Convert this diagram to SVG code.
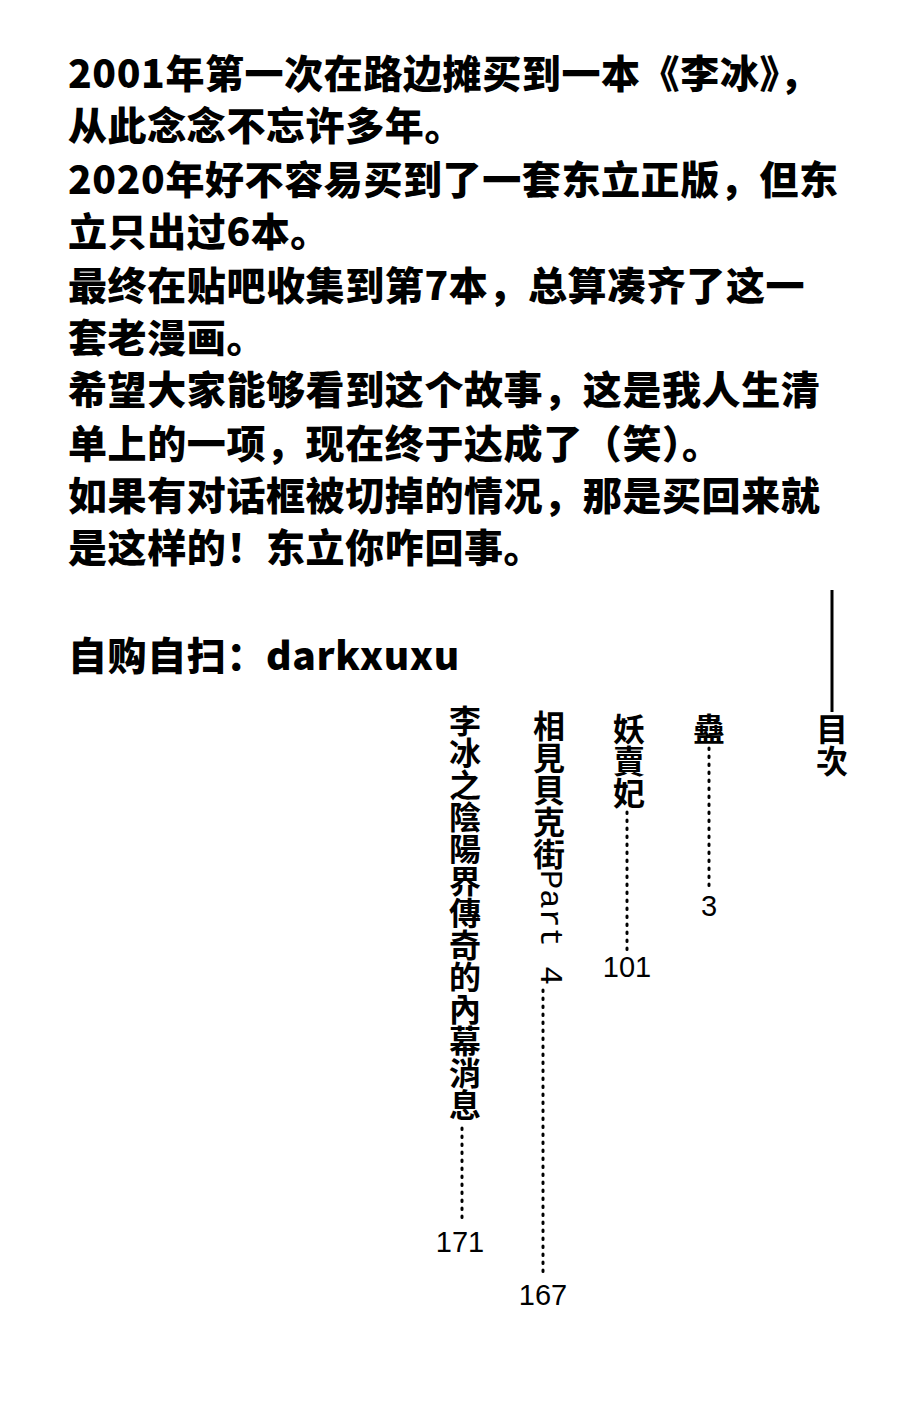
<svg xmlns="http://www.w3.org/2000/svg" width="917" height="1404" viewBox="0 0 917 1404">
<style>
.m{font-family:"Noto Sans CJK SC","Noto Sans",sans-serif;font-weight:900;font-size:39px;letter-spacing:0.6px;fill:#000}
.v{font-family:"Noto Sans CJK TC","Liberation Mono",sans-serif;font-weight:700;font-size:32px;writing-mode:vertical-rl;fill:#000}
.n{font-family:"Liberation Sans","Noto Sans",sans-serif;font-size:29px;fill:#000;text-anchor:middle}
.d{stroke:#000;stroke-width:3;stroke-dasharray:1.5 6.5;stroke-linecap:round}
</style>
<rect width="917" height="1404" fill="#fff"/>
<g id="text">
<text class="m" x="68" y="88">2001年第一次在路边摊买到一本《李冰》，</text>
<text class="m" x="68" y="140">从此念念不忘许多年。</text>
<text class="m" x="68" y="194">2020年好不容易买到了一套东立正版，但东</text>
<text class="m" x="68" y="246">立只出过6本。</text>
<text class="m" x="68" y="300">最终在贴吧收集到第7本，总算凑齐了这一</text>
<text class="m" x="68" y="352">套老漫画。</text>
<text class="m" x="68" y="404">希望大家能够看到这个故事，这是我人生清</text>
<text class="m" x="68" y="458">单上的一项，现在终于达成了（笑）。</text>
<text class="m" x="68" y="510">如果有对话框被切掉的情况，那是买回来就</text>
<text class="m" x="68" y="562">是这样的！东立你咋回事。</text>
<text class="m" x="68" y="670">自购自扫：darkxuxu</text>
</g>
<g id="toc-title">
<line x1="832" y1="590" x2="832" y2="712" stroke="#000" stroke-width="3"/>
<text class="v" x="832" y="713">目次</text>
</g>
<g id="entry1">
<text class="v" x="709" y="713">蠱</text>
<line class="d" x1="709" y1="748" x2="709" y2="888"/>
<text class="n" x="709" y="916">3</text>
</g>
<g id="entry2">
<text class="v" x="629" y="713">妖賣妃</text>
<line class="d" x1="627" y1="812" x2="627" y2="950"/>
<text class="n" x="627" y="977">101</text>
</g>
<g id="entry3">
<text class="v" x="549" y="710">相見貝克街<tspan style="font-family:'Liberation Mono',monospace;font-weight:400">Part 4</tspan></text>
<line class="d" x1="543" y1="990" x2="543" y2="1278"/>
<text class="n" x="543" y="1305">167</text>
</g>
<g id="entry4">
<text class="v" x="465" y="705">李冰之陰陽界傳奇的內幕消息</text>
<line class="d" x1="462" y1="1128" x2="462" y2="1222"/>
<text class="n" x="460" y="1252">171</text>
</g>
</svg>
